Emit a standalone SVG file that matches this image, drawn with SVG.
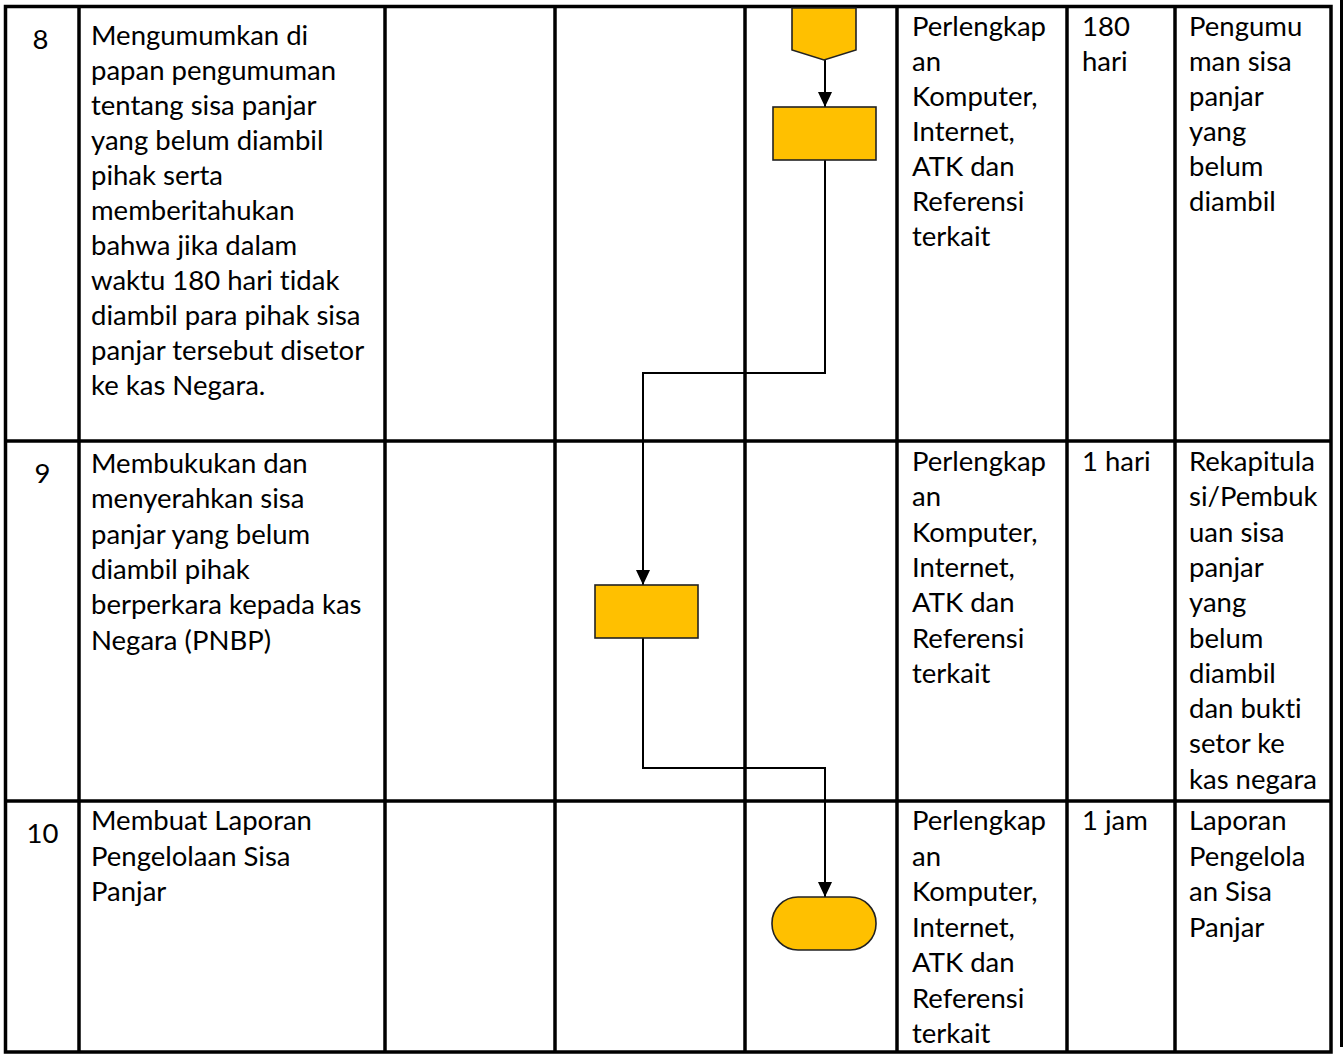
<svg xmlns="http://www.w3.org/2000/svg" width="1343" height="1057" viewBox="0 0 1343 1057">
<defs>
<style>
.grid{stroke:#000;stroke-width:3.5;fill:none}
.t{font-family:Lato,"Liberation Sans",sans-serif;font-size:27.5px;fill:#000;font-variant-ligatures:none;font-feature-settings:"liga" 0}
.shape{fill:#FFC000;stroke:#222;stroke-width:1.6}
.conn{fill:none;stroke:#000;stroke-width:2}
</style>
<marker id="arr" markerWidth="15" markerHeight="16" refX="15" refY="7" orient="auto" markerUnits="userSpaceOnUse">
<path d="M0,0 L15,7 L0,14 Z" fill="#000"/>
</marker>
</defs>
<rect width="1343" height="1057" fill="#fff"/>
<g id="table">
<rect class="grid" x="5.5" y="6.5" width="1325.5" height="1045.5"/>
<line class="grid" x1="79" y1="6.5" x2="79" y2="1052"/>
<line class="grid" x1="385" y1="6.5" x2="385" y2="1052"/>
<line class="grid" x1="555" y1="6.5" x2="555" y2="1052"/>
<line class="grid" x1="745" y1="6.5" x2="745" y2="1052"/>
<line class="grid" x1="897" y1="6.5" x2="897" y2="1052"/>
<line class="grid" x1="1067" y1="6.5" x2="1067" y2="1052"/>
<line class="grid" x1="1175" y1="6.5" x2="1175" y2="1052"/>
<line class="grid" x1="5.5" y1="441" x2="1331" y2="441"/>
<line class="grid" x1="5.5" y1="801" x2="1331" y2="801"/>
<line x1="1341.5" y1="0" x2="1341.5" y2="1047" stroke="#000" stroke-width="3"/>
</g>
<g id="row8-text">
<text class="t" x="40.5" y="49" text-anchor="middle">8</text>
<text class="t" x="91" y="45"><tspan x="91">Mengumumkan di</tspan><tspan x="91" dy="35">papan pengumuman</tspan><tspan x="91" dy="35">tentang sisa panjar</tspan><tspan x="91" dy="35">yang belum diambil</tspan><tspan x="91" dy="35">pihak serta</tspan><tspan x="91" dy="35">memberitahukan</tspan><tspan x="91" dy="35">bahwa jika dalam</tspan><tspan x="91" dy="35">waktu 180 hari tidak</tspan><tspan x="91" dy="35">diambil para pihak sisa</tspan><tspan x="91" dy="35">panjar tersebut disetor</tspan><tspan x="91" dy="35">ke kas Negara.</tspan></text>
<text class="t" x="912" y="36"><tspan x="912">Perlengkap</tspan><tspan x="912" dy="35">an</tspan><tspan x="912" dy="35">Komputer,</tspan><tspan x="912" dy="35">Internet,</tspan><tspan x="912" dy="35">ATK dan</tspan><tspan x="912" dy="35">Referensi</tspan><tspan x="912" dy="35">terkait</tspan></text>
<text class="t" x="1082" y="36"><tspan x="1082">180</tspan><tspan x="1082" dy="35">hari</tspan></text>
<text class="t" x="1189" y="36"><tspan x="1189">Pengumu</tspan><tspan x="1189" dy="35">man sisa</tspan><tspan x="1189" dy="35">panjar</tspan><tspan x="1189" dy="35">yang</tspan><tspan x="1189" dy="35">belum</tspan><tspan x="1189" dy="35">diambil</tspan></text>
</g>
<g id="row9-text">
<text class="t" x="42.5" y="483" text-anchor="middle">9</text>
<text class="t" x="91" y="473"><tspan x="91">Membukukan dan</tspan><tspan x="91" dy="35.3">menyerahkan sisa</tspan><tspan x="91" dy="35.3">panjar yang belum</tspan><tspan x="91" dy="35.3">diambil pihak</tspan><tspan x="91" dy="35.3">berperkara kepada kas</tspan><tspan x="91" dy="35.3">Negara (PNBP)</tspan></text>
<text class="t" x="912" y="471"><tspan x="912">Perlengkap</tspan><tspan x="912" dy="35.3">an</tspan><tspan x="912" dy="35.3">Komputer,</tspan><tspan x="912" dy="35.3">Internet,</tspan><tspan x="912" dy="35.3">ATK dan</tspan><tspan x="912" dy="35.3">Referensi</tspan><tspan x="912" dy="35.3">terkait</tspan></text>
<text class="t" x="1082" y="471">1 hari</text>
<text class="t" x="1189" y="471"><tspan x="1189">Rekapitula</tspan><tspan x="1189" dy="35.3">si/Pembuk</tspan><tspan x="1189" dy="35.3">uan sisa</tspan><tspan x="1189" dy="35.3">panjar</tspan><tspan x="1189" dy="35.3">yang</tspan><tspan x="1189" dy="35.3">belum</tspan><tspan x="1189" dy="35.3">diambil</tspan><tspan x="1189" dy="35.3">dan bukti</tspan><tspan x="1189" dy="35.3">setor ke</tspan><tspan x="1189" dy="35.3">kas negara</tspan></text>
</g>
<g id="row10-text">
<text class="t" x="42.5" y="843" text-anchor="middle">10</text>
<text class="t" x="91" y="830"><tspan x="91">Membuat Laporan</tspan><tspan x="91" dy="35.5">Pengelolaan Sisa</tspan><tspan x="91" dy="35.5">Panjar</tspan></text>
<text class="t" x="912" y="830"><tspan x="912">Perlengkap</tspan><tspan x="912" dy="35.5">an</tspan><tspan x="912" dy="35.5">Komputer,</tspan><tspan x="912" dy="35.5">Internet,</tspan><tspan x="912" dy="35.5">ATK dan</tspan><tspan x="912" dy="35.5">Referensi</tspan><tspan x="912" dy="35.5">terkait</tspan></text>
<text class="t" x="1082" y="830">1 jam</text>
<text class="t" x="1189" y="830"><tspan x="1189">Laporan</tspan><tspan x="1189" dy="35.5">Pengelola</tspan><tspan x="1189" dy="35.5">an Sisa</tspan><tspan x="1189" dy="35.5">Panjar</tspan></text>
</g>
<g id="connectors">
<path class="conn" d="M825,60 L825,107" marker-end="url(#arr)"/>
<path class="conn" d="M825,160 L825,373 L643,373 L643,585" marker-end="url(#arr)"/>
<path class="conn" d="M643,638 L643,768 L825,768 L825,897" marker-end="url(#arr)"/>
</g>
<g id="offpage-connector">
<path class="shape" d="M792,8 L856,8 L856,50 L824,60 L792,50 Z"/>
</g>
<g id="process-8">
<rect class="shape" x="773" y="107" width="103" height="53"/>
</g>
<g id="process-9">
<rect class="shape" x="595" y="585" width="103" height="53"/>
</g>
<g id="terminator-10">
<rect class="shape" x="772" y="897" width="104" height="53" rx="26" ry="26"/>
</g>
</svg>
